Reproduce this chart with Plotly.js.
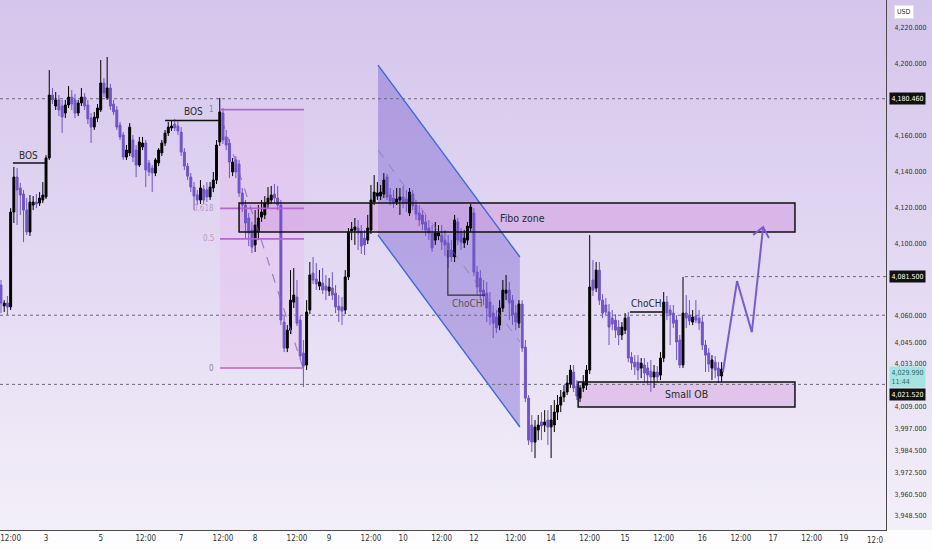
<!DOCTYPE html>
<html><head><meta charset="utf-8">
<script src="https://cdn.plot.ly/plotly-3.0.1.min.js"></script>
<style>
html,body{margin:0;padding:0;}
body{width:932px;height:550px;overflow:hidden;background:#fdfcff;}
#bg{position:absolute;left:0;top:0;width:932px;height:530px;background:linear-gradient(180deg,#d4c5ec 0%,#e1d7f2 45%,#f3eff9 100%);}
#chart{position:absolute;left:0;top:0;width:932px;height:550px;}
</style></head><body><div id="bg"></div><div id="chart"></div>
<script>
const FONT = '"Liberation Sans Narrow","DejaVu Sans Condensed","Arial Narrow",Arial,sans-serif';

const xTickVals = [3,14,31,45,56,69,79,92,102,115,125,137,147,160,171,183,194,206,218,230,240,252,262];
const xTickText = ['12:00','3','5','12:00','7','12:00','8','12:00','9','12:00','10','12:00','12','12:00','14','12:00','15','12:00','16','12:00','17','12:00','19'];

const yTickVals = [4220,4200,4160,4140,4120,4100,4060,4045,4033,4009,3997,3984.5,3972.5,3960.5,3948.5];
const yTickText = ['4,220.000','4,200.000','4,160.000','4,140.000','4,120.000','4,100.000','4,060.000','4,045.000','4,033.000','4,009.000','3,997.000','3,984.500','3,972.500','3,960.500','3,948.500'];

const open = [
4076.8,4065.1,4066.8,4064.6,4117.4,4136.9,4130.8,4127.4,4118.5,4106.3,
4121.3,4123.0,4122.4,4124.1,4125.8,4147.5,4182.5,4176.4,4179.8,4176.4,
4172.5,4177.0,4181.4,4179.8,4172.5,4178.1,4181.4,4177.0,4169.7,4164.7,
4169.7,4174.2,4189.2,4180.9,4186.4,4177.5,4174.2,4165.8,4160.3,4148.0,
4150.3,4157.5,4151.9,4143.6,4153.6,4155.8,4144.7,4141.9,4139.1,4144.7,
4150.3,4155.8,4161.4,4164.2,4166.4,4165.3,4161.9,4150.8,4143.0,4136.9,
4131.3,4126.9,4124.1,4130.2,4129.7,4125.8,4130.8,4135.2,4156.4,4172.5,
4159.2,4155.8,4139.7,4146.4,4144.1,4128.0,4121.3,4114.1,4107.4,4099.1,
4106.3,4114.6,4115.8,4121.9,4124.1,4127.4,4125.2,4121.3,4056.2,4041.7,
4051.7,4067.3,4070.1,4057.3,4039.0,4032.3,4062.9,4083.5,4080.1,4076.2,
4077.9,4076.2,4073.5,4075.1,4072.3,4065.1,4064.6,4062.9,4081.3,4106.8,
4107.4,4108.5,4106.8,4102.9,4101.8,4107.4,4123.0,4126.3,4126.3,4127.4,
4136.9,4126.9,4125.2,4123.0,4124.1,4125.8,4124.7,4116.9,4127.4,4121.3,
4116.9,4115.8,4111.9,4108.5,4105.7,4101.8,4104.1,4104.6,4101.8,4100.2,
4096.3,4092.4,4111.9,4106.3,4100.2,4101.8,4108.5,4116.9,4084.0,4080.7,
4074.0,4072.3,4067.3,4061.2,4059.0,4054.5,4064.0,4072.3,4074.0,4068.4,
4061.2,4055.6,4066.2,4042.3,4013.9,3998.9,3989.4,3996.1,4000.6,3998.9,
4001.7,3997.8,3998.9,4006.1,4010.0,4014.5,4017.3,4021.7,4028.4,4020.6,
4013.9,4019.5,4021.1,4029.5,4079.6,4075.1,4085.1,4068.4,4065.7,4061.8,
4058.4,4057.3,4053.4,4049.0,4051.7,4059.0,4036.7,4033.9,4033.9,4030.6,
4032.3,4030.6,4028.9,4025.6,4028.4,4026.7,4036.2,4067.3,4062.9,4061.2,
4057.3,4046.2,4032.3,4061.2,4060.1,4056.2,4059.5,4058.4,4056.2,4043.4,
4039.0,4030.6,4033.9,4030.6,4026.2];

const high = [
4079.6,4068.4,4070.7,4119.6,4142.5,4141.9,4133.6,4129.7,4125.2,4126.9,
4126.3,4127.4,4128.5,4134.1,4149.1,4196.4,4186.4,4184.2,4182.5,4179.8,
4179.8,4187.5,4185.3,4183.1,4179.8,4186.4,4183.6,4179.8,4172.5,4173.1,
4177.5,4202.0,4192.0,4203.7,4188.7,4179.8,4176.4,4167.5,4161.9,4154.7,
4166.9,4160.3,4154.7,4159.2,4159.2,4157.5,4146.4,4143.6,4147.5,4153.0,
4157.5,4163.1,4167.5,4168.6,4169.2,4168.0,4164.7,4153.0,4144.7,4139.1,
4134.1,4129.7,4135.2,4132.5,4134.1,4134.1,4139.7,4157.5,4180.9,4175.3,
4163.1,4158.1,4147.5,4148.6,4146.4,4130.8,4124.1,4116.9,4111.9,4118.5,
4121.3,4124.1,4126.3,4131.3,4131.9,4133.0,4131.9,4124.1,4059.5,4054.5,
4085.1,4086.3,4079.6,4059.5,4046.2,4068.4,4089.6,4092.4,4089.0,4085.1,
4086.3,4082.4,4080.7,4084.0,4076.8,4071.2,4070.1,4085.1,4108.5,4111.9,
4114.1,4113.0,4110.2,4107.4,4115.8,4132.5,4138.0,4134.1,4132.5,4139.1,
4138.6,4130.8,4129.7,4130.8,4130.8,4131.9,4129.7,4130.8,4129.7,4124.1,
4121.3,4118.5,4115.8,4113.0,4110.2,4111.9,4110.2,4110.2,4107.4,4104.6,
4101.8,4115.8,4114.1,4108.5,4107.4,4111.9,4121.9,4119.6,4087.4,4085.1,
4079.6,4078.5,4072.9,4065.7,4062.9,4068.4,4079.6,4082.4,4078.5,4071.2,
4065.7,4068.4,4068.4,4046.2,4015.6,4004.5,4001.7,4004.5,4006.1,4007.2,
4007.2,4010.0,4012.8,4015.6,4018.4,4021.1,4026.7,4032.3,4032.3,4023.9,
4021.1,4026.7,4032.3,4104.6,4090.7,4089.6,4089.6,4071.8,4069.6,4066.2,
4062.9,4060.6,4057.3,4056.2,4061.2,4061.8,4039.5,4037.8,4037.8,4036.2,
4036.2,4033.9,4035.1,4032.3,4031.7,4039.5,4072.9,4070.7,4065.7,4065.7,
4060.1,4049.0,4081.3,4071.2,4068.4,4062.9,4068.4,4062.9,4059.5,4046.2,
4041.7,4037.8,4037.3,4033.9,4033.9];

const low = [
4061.2,4061.8,4060.1,4062.9,4111.3,4110.2,4115.8,4100.7,4104.6,4104.1,
4118.5,4119.6,4120.8,4122.4,4124.7,4146.4,4177.5,4174.2,4170.8,4161.4,
4169.7,4175.3,4174.2,4169.7,4170.8,4176.4,4174.2,4166.4,4155.8,4163.1,
4167.5,4173.1,4181.4,4179.8,4174.2,4171.4,4163.1,4157.5,4146.4,4146.4,
4148.6,4145.2,4136.9,4142.5,4151.9,4131.3,4137.4,4128.5,4137.4,4143.0,
4148.6,4154.2,4159.7,4162.5,4162.5,4160.3,4148.6,4140.8,4135.2,4128.5,
4118.5,4121.3,4121.9,4121.9,4123.0,4124.1,4128.5,4133.0,4154.2,4155.3,
4151.9,4136.3,4137.4,4136.3,4125.8,4117.4,4102.9,4098.5,4094.6,4095.2,
4101.8,4111.9,4113.5,4119.6,4121.9,4122.4,4118.5,4054.5,4039.5,4039.5,
4049.5,4064.0,4054.0,4035.1,4020.0,4029.5,4060.6,4077.4,4074.0,4074.0,
4071.8,4068.4,4070.7,4068.4,4061.2,4056.2,4054.5,4060.6,4079.6,4101.8,
4099.1,4096.3,4094.1,4093.5,4099.6,4105.2,4121.3,4124.1,4124.1,4125.2,
4124.1,4121.3,4119.6,4121.3,4115.8,4119.6,4117.4,4115.2,4118.5,4113.0,
4109.6,4107.4,4104.1,4101.8,4095.2,4099.1,4101.8,4096.3,4093.0,4086.3,
4089.6,4089.6,4099.1,4096.3,4097.4,4099.1,4106.3,4081.8,4071.2,4068.4,
4065.7,4056.2,4054.5,4047.3,4050.1,4051.7,4061.8,4068.4,4057.3,4054.5,
4051.7,4052.9,4039.5,4011.7,3987.8,3983.9,3980.5,3990.5,3990.5,3995.0,
3987.8,3980.5,3995.0,4001.7,4006.1,4011.7,4015.6,4019.5,4017.3,4012.8,
4011.7,4017.3,4018.4,4027.3,4070.7,4072.9,4065.7,4058.4,4059.5,4043.4,
4051.7,4047.3,4043.4,4046.2,4049.5,4033.9,4029.5,4026.7,4023.9,4025.0,
4022.8,4021.1,4017.3,4019.5,4022.3,4023.9,4033.9,4057.3,4043.4,4052.9,
4035.1,4030.6,4030.6,4052.9,4054.5,4054.5,4055.6,4051.7,4040.6,4028.4,
4028.4,4023.9,4025.0,4022.3,4022.8];

const close = [
4066.8,4066.8,4064.6,4117.4,4136.9,4129.7,4126.9,4118.5,4106.3,4123.0,
4123.0,4121.9,4125.2,4126.9,4147.5,4182.5,4179.8,4179.8,4174.2,4170.3,
4177.0,4181.4,4177.5,4172.5,4178.1,4181.4,4176.4,4169.2,4164.7,4170.3,
4175.3,4189.2,4183.6,4186.4,4176.4,4173.1,4164.7,4159.2,4148.0,4151.9,
4164.7,4148.0,4143.6,4156.4,4155.8,4140.8,4139.7,4139.1,4146.4,4151.9,
4155.8,4161.4,4164.7,4165.3,4164.2,4162.5,4150.8,4143.0,4137.4,4131.3,
4126.3,4124.1,4130.8,4124.1,4125.8,4131.3,4135.2,4154.7,4173.1,4157.5,
4154.7,4145.2,4145.2,4139.7,4128.0,4121.3,4111.3,4105.7,4097.9,4110.2,
4114.1,4117.4,4122.4,4125.2,4126.9,4125.2,4121.3,4057.3,4041.7,4051.7,
4068.4,4071.2,4055.6,4037.3,4031.7,4061.8,4082.4,4079.6,4077.4,4078.5,
4074.0,4074.0,4075.7,4071.2,4064.6,4062.9,4062.3,4081.3,4106.3,4108.0,
4109.1,4105.7,4098.5,4099.1,4108.5,4124.1,4128.5,4128.0,4128.5,4135.2,
4125.8,4123.5,4122.4,4124.7,4125.8,4122.4,4122.4,4128.5,4120.8,4116.3,
4113.0,4110.7,4107.4,4105.7,4097.4,4105.7,4105.7,4100.7,4099.1,4092.4,
4092.4,4113.0,4101.8,4100.7,4102.9,4109.6,4120.2,4084.0,4075.7,4072.9,
4070.7,4064.0,4059.0,4055.6,4052.9,4064.0,4074.0,4074.0,4066.8,4060.1,
4056.2,4066.2,4041.7,4013.9,3990.5,3989.4,3997.8,3998.9,3998.4,4000.6,
3997.8,4001.7,4006.1,4010.0,4014.5,4017.3,4022.3,4029.5,4019.5,4015.0,
4019.5,4022.3,4029.5,4075.7,4074.0,4085.1,4068.4,4061.2,4061.8,4053.4,
4055.1,4051.7,4049.0,4053.4,4058.4,4036.2,4033.4,4031.2,4029.5,4033.4,
4027.8,4026.7,4025.6,4028.4,4025.6,4036.2,4067.3,4061.2,4060.1,4055.6,
4045.1,4032.3,4061.2,4058.4,4056.8,4059.0,4057.3,4055.6,4043.4,4037.8,
4032.8,4035.1,4029.5,4026.2,4029.99];

const barIndex = open.map((_, i) => i);

// drawings (bar index, price)
const fibX = [68.1, 94.2];
const fibLevels = [1, 0.618, 0.5, 0];
const fibHigh = 4174.4, fibLow = 4030.6;
const fibTrend = [[68.7, 4168.6], [93.9, 4030.6]];
const fiboZone = {x: [74.0, 246.8], y: [4106.3, 4122.4]};
const smallOB = {x: [179.4, 246.8], y: [4008.9, 4022.8]};
const channelTop = [[117.2, 4199.2], [161.3, 4092.4]];
const channelBottom = [[117.2, 4104.6], [161.3, 3997.8]];
const channelMid = [[117.2, 4151.9], [161.3, 4045.1]];
const bos1 = {x: [3.7, 13.7], y: 4144.7};
const bos2 = {x: [51.0, 68.0], y: 4168.3};
const choch1 = [[138.9, 4096.3], [138.9, 4071.2], [150.5, 4071.2]];
const choch2 = {x: [195.5, 206.4], y: 4061.8};
const projection = [[224.4, 4028.4], [228.8, 4079.0], [233.4, 4050.6], [236.9, 4109.1]];
const arrowHead = [[233.8, 4104.6], [236.9, 4109.1], [238.7, 4102.9]];
const priceLines = [{p: 4180.46, x0: -0.31}, {p: 4060.0, x0: -0.31}, {p: 4021.52, x0: -0.31}, {p: 4081.5, x0: 212.6}];

const XMAX = 275.1;
const PURPLE = '#7054c6';

function pathOf(pts, close) {
  return pts.map((p, k) => (k ? 'L' : 'M') + p[0] + ',' + p[1]).join(' ') + (close ? ' Z' : '');
}

const shapes = [];
// fills below
shapes.push({type:'rect', layer:'below', x0:fibX[0], x1:fibX[1], y0:fibLow, y1:fibHigh, fillcolor:'rgba(232,186,236,0.38)', line:{width:0}});
shapes.push({type:'path', layer:'below', path:pathOf([channelTop[0], channelTop[1], channelBottom[1], channelBottom[0]], true), fillcolor:'rgba(112,88,205,0.40)', line:{width:0}});
shapes.push({type:'rect', layer:'below', x0:fiboZone.x[0], x1:fiboZone.x[1], y0:fiboZone.y[0], y1:fiboZone.y[1], fillcolor:'rgba(212,164,226,0.62)', line:{width:0}});
shapes.push({type:'rect', layer:'below', x0:smallOB.x[0], x1:smallOB.x[1], y0:smallOB.y[0], y1:smallOB.y[1], fillcolor:'rgba(220,182,232,0.7)', line:{width:0}});
priceLines.forEach(l => shapes.push({type:'line', layer:'below', x0:l.x0, x1:XMAX, y0:l.p, y1:l.p, line:{color:'#6a6a78', width:1, dash:'dot'}}));
// above
fibLevels.forEach(f => {
  const p = fibLow + f * (fibHigh - fibLow);
  shapes.push({type:'line', x0:fibX[0], x1:fibX[1], y0:p, y1:p, line:{color:'#b465d0', width:1.6}});
});
shapes.push({type:'line', x0:fibTrend[0][0], y0:fibTrend[0][1], x1:fibTrend[1][0], y1:fibTrend[1][1], line:{color:'rgba(130,100,180,0.75)', width:1.2, dash:'dash'}});
shapes.push({type:'line', x0:channelMid[0][0], y0:channelMid[0][1], x1:channelMid[1][0], y1:channelMid[1][1], line:{color:'rgba(120,105,170,0.6)', width:1, dash:'dash'}});
shapes.push({type:'line', x0:channelTop[0][0], y0:channelTop[0][1], x1:channelTop[1][0], y1:channelTop[1][1], line:{color:'#3a68dc', width:1.4}});
shapes.push({type:'line', x0:channelBottom[0][0], y0:channelBottom[0][1], x1:channelBottom[1][0], y1:channelBottom[1][1], line:{color:'#3a68dc', width:1.4}});
shapes.push({type:'rect', x0:fiboZone.x[0], x1:fiboZone.x[1], y0:fiboZone.y[0], y1:fiboZone.y[1], line:{color:'#111', width:1.5}});
shapes.push({type:'rect', x0:smallOB.x[0], x1:smallOB.x[1], y0:smallOB.y[0], y1:smallOB.y[1], line:{color:'#111', width:1.5}});
shapes.push({type:'line', x0:bos1.x[0], x1:bos1.x[1], y0:bos1.y, y1:bos1.y, line:{color:'#111', width:1.5}});
shapes.push({type:'line', x0:bos2.x[0], x1:bos2.x[1], y0:bos2.y, y1:bos2.y, line:{color:'#111', width:1.5}});
shapes.push({type:'path', path:pathOf(choch1, false), line:{color:'#333', width:1.2}});
shapes.push({type:'line', x0:choch2.x[0], x1:choch2.x[1], y0:choch2.y, y1:choch2.y, line:{color:'#111', width:1.5}});
shapes.push({type:'path', path:pathOf(projection, false), line:{color:'#7a5cd0', width:2}});
shapes.push({type:'path', path:pathOf(arrowHead, false), line:{color:'#7a5cd0', width:2}});

const txt = (x, y, t, extra) => Object.assign({x, y, xref:'x', yref:'y', text:t, showarrow:false, font:{family:FONT, size:10, color:'#2a2a2a'}}, extra || {});
const annotations = [
  txt(8.7, 4149.1, 'BOS'),
  txt(59.7, 4173.1, 'BOS'),
  txt(144.9, 4066.8, 'ChoCH', {font:{family:FONT, size:10, color:'#555'}}),
  txt(200.8, 4066.4, 'ChoCH'),
  txt(162, 4114.3, 'Fibo zone', {font:{family:FONT, size:10.5, color:'#2a2a2a'}}),
  txt(213, 4015.9, 'Small OB', {font:{family:FONT, size:10.5, color:'#2a2a2a'}}),
];
fibLevels.forEach(f => {
  const p = fibLow + f * (fibHigh - fibLow);
  annotations.push(txt(66.9, p, String(f), {xanchor:'right', font:{family:FONT, size:8, color: f===1||f===0 ? '#8c80a0' : '#b89ac8'}}));
});
const axBox = (p, t, bg, fc, extra) => Object.assign({xref:'paper', x:1, xanchor:'left', xshift:3, yref:'y', y:p, yanchor:'middle', text:t, showarrow:false, bgcolor:bg, borderpad:1.5, font:{family:FONT, size:7, color:fc}}, extra || {});
annotations.push(axBox(4180.46, '4,180.460', '#111', '#fff'));
annotations.push(axBox(4081.5, '4,081.500', '#111', '#fff'));
annotations.push(axBox(4029.99, '4,029.990<br>11:44', '#a7e3e0', '#2b6d69', {yanchor:'top', yshift:3, align:'left'}));
annotations.push(axBox(4021.52, '4,021.520', '#111', '#fff', {yshift:-10}));
annotations.push({xref:'paper', x:1, xanchor:'left', xshift:8, yref:'paper', y:1, yanchor:'top', yshift:-5, text:'USD', showarrow:false, bgcolor:'#fff', bordercolor:'#e2e2e2', borderwidth:1, borderpad:2, font:{family:FONT, size:7, color:'#333'}});
annotations.push({xref:'x', x:XMAX, xanchor:'right', yref:'paper', y:0, yanchor:'top', yshift:-4, text:'12:0', showarrow:false, font:{family:FONT, size:8, color:'#333'}});

const trace = {
  type:'candlestick', x:barIndex, open, high, low, close,
  increasing:{line:{color:'#000000', width:1}, fillcolor:'#000000'},
  decreasing:{line:{color:PURPLE, width:1}, fillcolor:PURPLE},
  whiskerwidth:0, hoverinfo:'none', showlegend:false
};

const layout = {
  width:932, height:550,
  margin:{l:0, r:46, t:0, b:20, pad:0},
  paper_bgcolor:'rgba(0,0,0,0)', plot_bgcolor:'rgba(0,0,0,0)',
  showlegend:false,
  boxgap:0.15,
  font:{family:FONT, size:8, color:'#333'},
  xaxis:{range:[-0.31, XMAX], tickmode:'array', tickvals:xTickVals, ticktext:xTickText, showgrid:false, zeroline:false,
         showline:true, linecolor:'#4a4a4a', linewidth:1, ticks:'', rangeslider:{visible:false}, fixedrange:true,
         tickfont:{family:FONT, size:8, color:'#333'}},
  yaxis:{side:'right', range:[3940.5, 4235.4], tickmode:'array', tickvals:yTickVals, ticktext:yTickText, showgrid:false,
         zeroline:false, showline:true, linecolor:'#4a4a4a', linewidth:1, ticks:'', ticklabelstandoff:6, fixedrange:true,
         tickfont:{family:FONT, size:7, color:'#333'}},
  shapes, annotations
};

Plotly.newPlot('chart', [trace], layout, {staticPlot:true, displayModeBar:false});
</script></body></html>
